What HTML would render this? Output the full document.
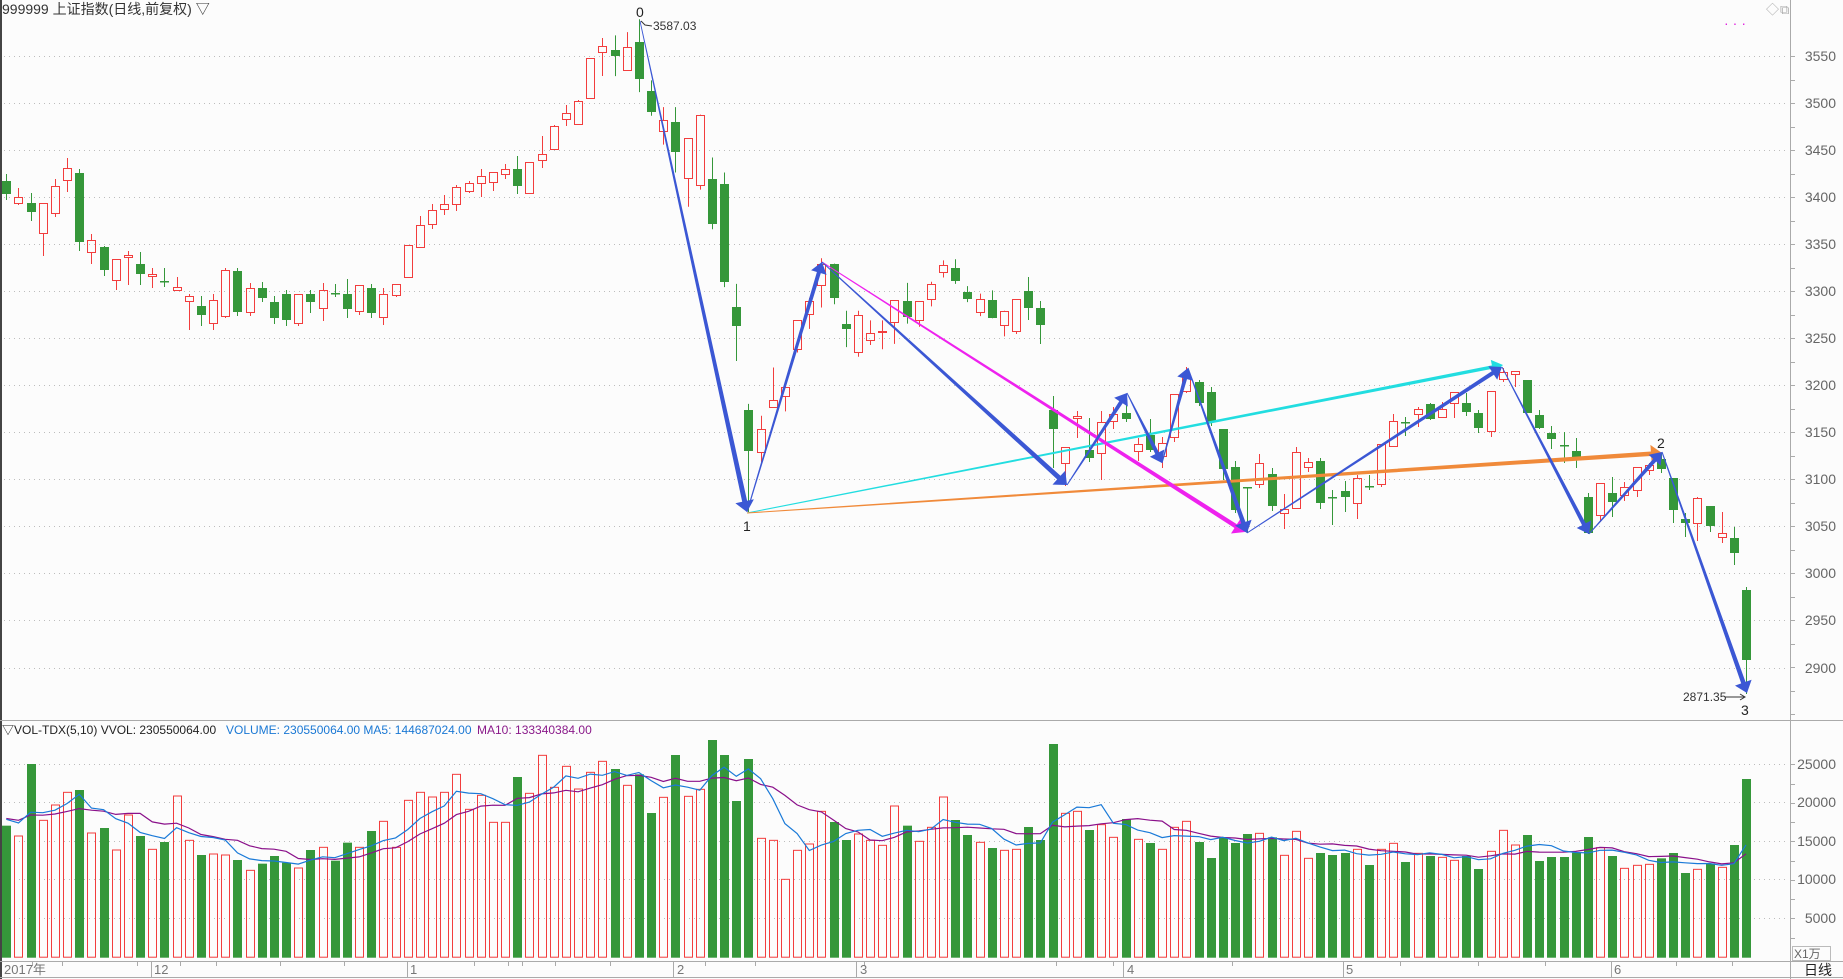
<!DOCTYPE html>
<html><head><meta charset="utf-8">
<style>
html,body{margin:0;padding:0;background:#fcfcfc;}
svg{display:block;}
text{font-family:"Liberation Sans","Noto Sans CJK SC",sans-serif;}
</style></head>
<body>
<svg id="s" xmlns="http://www.w3.org/2000/svg" width="1843" height="979" viewBox="0 0 1843 979">
<rect x="0" y="0" width="1843" height="979" fill="#fcfcfc"/>
<g id="grid" stroke="#bdbdbd" stroke-width="1" stroke-dasharray="1,4"></g>
<line x1="1" y1="0" x2="1" y2="979" stroke="#444" stroke-width="2"/>
<line x1="1790.5" y1="0" x2="1790.5" y2="979" stroke="#aaa" stroke-width="1"/>
<line x1="0" y1="720.5" x2="1843" y2="720.5" stroke="#aaa" stroke-width="1"/>
<line x1="0" y1="961.5" x2="1843" y2="961.5" stroke="#aaa" stroke-width="1"/>
<line x1="0" y1="977.5" x2="1843" y2="977.5" stroke="#aaa" stroke-width="1"/>
<g id="ticks" stroke="#aaa" stroke-width="1"></g>
<g id="candles"></g>
<g id="vols"></g>
<g id="lines"></g>
<text x="2" y="14" font-size="14" fill="#333">999999 上证指数(日线,前复权) ▽</text>
<text x="1766" y="14" font-size="13" fill="#aaa">◇</text>
<text x="1780" y="14" font-size="13" fill="#aaa">⧉</text>
<text x="1724" y="28" font-size="14" fill="#e020e0" letter-spacing="4">···</text>
<g font-size="14" fill="#666" text-anchor="end">
<text x="1836" y="61">3550</text>
<text x="1836" y="108">3500</text>
<text x="1836" y="155">3450</text>
<text x="1836" y="202">3400</text>
<text x="1836" y="249">3350</text>
<text x="1836" y="296">3300</text>
<text x="1836" y="343">3250</text>
<text x="1836" y="390">3200</text>
<text x="1836" y="437">3150</text>
<text x="1836" y="484">3100</text>
<text x="1836" y="531">3050</text>
<text x="1836" y="578">3000</text>
<text x="1836" y="625">2950</text>
<text x="1836" y="673">2900</text>
</g>
<g font-size="14" fill="#666" text-anchor="end">
<text x="1836" y="769">25000</text>
<text x="1836" y="807">20000</text>
<text x="1836" y="846">15000</text>
<text x="1836" y="884">10000</text>
<text x="1836" y="923">5000</text>
</g>
<rect x="1792.5" y="946.5" width="38" height="14" fill="none" stroke="#bbb"/>
<text x="1794" y="958" font-size="12" fill="#666">X1万</text>
<text x="2" y="734" font-size="12" fill="#222">▽VOL-TDX(5,10) VVOL: 230550064.00</text>
<text x="226" y="734" font-size="12" fill="#1a78d4">VOLUME: 230550064.00 MA5: 144687024.00</text>
<text x="477" y="734" font-size="12" fill="#8a1a8a">MA10: 133340384.00</text>
<g font-size="13" fill="#777">
<text x="4" y="974">2017年</text>
<text x="154" y="974">12</text>
<text x="410" y="974">1</text>
<text x="677" y="974">2</text>
<text x="860" y="974">3</text>
<text x="1127" y="974">4</text>
<text x="1346" y="974">5</text>
<text x="1614" y="974">6</text>
</g>
<text x="1804" y="975" font-size="14" fill="#222">日线</text>
<text x="636" y="17" font-size="14" fill="#222">0</text>
<text x="653" y="30" font-size="12" fill="#333">3587.03</text>
<polyline points="641,21 645,25 652,26" fill="none" stroke="#333" stroke-width="1"/>
<text x="743" y="531" font-size="14" fill="#222">1</text>
<text x="1657" y="448" font-size="14" fill="#222">2</text>
<text x="1741" y="715" font-size="14" fill="#222">3</text>
<text x="1683" y="701" font-size="12" fill="#333">2871.35</text>
<line x1="1725" y1="697" x2="1744" y2="697" stroke="#333" stroke-width="1"/>
<polyline points="1740,694 1745,697 1740,700" fill="none" stroke="#333" stroke-width="1"/>
</svg>
<script>
(function(){
var NS="http://www.w3.org/2000/svg";
function el(p,t,a){var e=document.createElementNS(NS,t);for(var k in a)e.setAttribute(k,a[k]);p.appendChild(e);return e;}
var grid=document.getElementById('grid');
var ys=[56,103,150,197,244,291,338,385,432,479,526,573,620,667.5,764.3,802.3,841,879.3,918.3];
ys.forEach(function(y){el(grid,'line',{x1:4,y1:Math.round(y)+0.5,x2:1789,y2:Math.round(y)+0.5});});
var tk=document.getElementById('ticks');
for(var y=56;y<715;y+=23.5){el(tk,'line',{x1:1790,y1:Math.round(y)+0.5,x2:1795,y2:Math.round(y)+0.5});}
for(var y=764.3;y<950;y+=19.25){el(tk,'line',{x1:1790,y1:Math.round(y)+0.5,x2:1795,y2:Math.round(y)+0.5});}
[151,407,673,856,1123,1343,1611].forEach(function(x){el(tk,'line',{x1:x+0.5,y1:962,x2:x+0.5,y2:977});});
[32,62,137,180,216,280,344,474,508,522,555,610,705,755,864,1056,1113,1232,1400,1478,1545,1676,1732].forEach(function(x){el(tk,'line',{x1:x+0.5,y1:962,x2:x+0.5,y2:966});});

var D=[[181,194,174,200],[203,197,188,205],[203,212,193,221],[233,203,203,256],[213,186,179,217],[180,168,158,192],[173,242,169,251],[252,240,234,264],[247,270,246,276],[280,259,259,290],
[257,255,251,285],[264,274,252,285],[276,274,268,288],[281,282,268,287],[290,287,277,290],[301,296,294,330],[306,315,296,326],[323,300,294,330],[316,270,268,318],[271,312,268,316],
[312,288,283,316],[288,298,282,302],[302,318,296,324],[294,320,290,326],[323,294,294,326],[294,302,290,313],[308,290,283,321],[293,294,284,297],[294,309,279,318],[311,285,285,315],
[288,313,284,318],[317,294,288,325],[295,284,284,297],[277,245,245,277],[247,225,216,248],[224,210,204,229],[209,204,195,215],[204,187,185,211],[191,183,181,193],[183,176,169,197],
[182,172,172,191],[174,169,164,179],[169,186,156,194],[193,162,162,193],[160,154,136,168],[149,126,125,149],[119,113,105,126],[124,101,100,124],[98,58,58,98],[52,46,38,76]];
var Z=[[47,52,33,71],[65,44,30,65],[39,74,18,86],[85,105,75,108],[122,112,100,135],[114,142,100,161],[166,129,129,193],[173,107,107,177],[167,209,147,214],[172,263,161,268],
[287,304,265,337],[383,421,377,478],[422,400,388,433],[380,373,343,380],[370,361,361,384],[326,299,299,329],[293,281,278,307],[266,246,241,287],[246,278,246,284],[302,307,290,324],
[329,294,290,333],[317,311,299,322],[310,309,299,326],[301,280,280,321],[281,296,264,302],[299,281,281,305],[279,265,263,286],[254,247,243,259],[250,262,242,265],[273,279,267,282],
[291,279,274,295],[280,297,271,297],[303,290,290,314]];
Z.forEach(function(c){D.push(c.map(function(v){return v*1.0714;}));});
var R=[[331,299,299,334],[291,308,277,320],[308,325,301,344],[410,429,396,468],[463,447,447,486],[418,416,411,438],[450,458,418,462],[453,422,411,480],[421,414,407,429],[413,419,402,422],
[451,444,438,461],[435,450,419,452],[456,443,437,468],[437,394,394,442],[391,377,367,393],[382,403,380,406],[392,422,387,426],[429,469,429,480],[467,510,461,513],[487,488,487,533],
[484,463,454,488],[474,506,468,511],[513,509,494,529],[508,452,447,508],[467,462,458,472],[461,503,458,509],[497,498,490,525],[491,497,481,512],[503,478,475,519],[486,487,475,490],
[484,444,444,487],[446,421,414,446],[422,423,417,436],[414,409,407,427],[404,419,403,420],[417,409,402,418],[403,392,392,418],[403,412,393,416],[413,428,410,433],[431,391,391,437],
[379,372,368,382],[374,371,371,387],[380,413,380,413],[415,428,410,429],[433,439,426,449],[445,446,432,463],[451,458,438,468],[497,533,493,534],[515,483,483,522],[493,502,477,517],
[495,487,482,501],[490,467,467,497],[470,465,463,475],[459,469,453,473],[478,510,478,523],[519,523,513,537],[523,498,497,541],[506,526,506,532],[537,533,512,543],[538,553,527,565],
[590,660,587,694]];
R.forEach(function(c){D.push(c);});
var V=[302,333,117,286,240,202,195,324,309,375,270,333,373,351,213,346,390,387,390,405,436,416,393,413,429,375,367,407,353,367,318,289,367,226,202,216,202,148,253,211,292,292,156,205,91,187,124,192,142,109,132,181,148,264,217,90,214,193,45,90,228,102,340,346,463,376,357,259,291,345,327,346,361,243,302,349,307,216,285,330,352,369,376,373,306,345,57,265,259,315,299,337,282,343,354,373,307,289,351,399,339,354,327,325,337,391,319,400,384,390,384,373,420,373,355,411,385,393,397,406,393,432,379,316,360,330,408,396,396,383,336,368,393,430,421,418,400,384,444,433,416,427,360,162];
var RED="#f23d3d",GRN="#35973a";
var cg=document.getElementById('candles'),vg=document.getElementById('vols');
var BASE=957.7;
function X(i){return 6.3+12.166*i;}
var H=[];
D.forEach(function(c,i){
 var x=Math.round(X(i)),o=c[0],cl=c[1],h=c[2],l=c[3];
 if(cl<o){
  var t=Math.round(cl),b=Math.round(o);
  if(h<t) el(cg,'line',{x1:x+0.5,y1:h,x2:x+0.5,y2:t,stroke:RED,'stroke-width':1});
  if(l>b) el(cg,'line',{x1:x+0.5,y1:b,x2:x+0.5,y2:l,stroke:RED,'stroke-width':1});
  el(cg,'rect',{x:x-3.5,y:t+0.5,width:8,height:Math.max(1,b-t),fill:'none',stroke:RED,'stroke-width':1});
 } else {
  el(cg,'line',{x1:x+0.5,y1:h,x2:x+0.5,y2:l,stroke:GRN,'stroke-width':1});
  var t2=Math.round(o),b2=Math.round(cl);
  el(cg,'rect',{x:x-4,y:t2,width:9,height:Math.max(1.5,b2-t2),fill:GRN});
 }
 var top=725+V[i]/3; H.push(BASE-top);
 if(cl<o) el(vg,'rect',{x:x-3.5,y:top,width:8,height:BASE-top-0.5,fill:'none',stroke:RED,'stroke-width':1});
 else el(vg,'rect',{x:x-4,y:top,width:9,height:BASE-top,fill:GRN});
});
function ma(n){var pts=[];var pad=140;for(var i=0;i<H.length;i++){var s=0;for(var k=0;k<n;k++){var j=i-k;s+=(j>=0?H[j]:pad);}pts.push(X(i).toFixed(1)+","+(BASE-s/n).toFixed(1));}return pts.join(" ");}
el(vg,'polyline',{points:ma(10),fill:'none',stroke:'#8a108a','stroke-width':1.2});
el(vg,'polyline',{points:ma(5),fill:'none',stroke:'#1a7ad8','stroke-width':1.2});

var lg=document.getElementById('lines');
function arrow(x1,y1,x2,y2,w1,w2,col){
 var dx=x2-x1,dy=y2-y1,L=Math.sqrt(dx*dx+dy*dy),ux=dx/L,uy=dy/L,nx=-uy,ny=ux;
 var hl=11,hw=w2*1.4+2.5;
 var ex=x2-ux*hl,ey=y2-uy*hl;
 var p=[[x1+nx*w1/2,y1+ny*w1/2],[ex+nx*w2/2,ey+ny*w2/2],[ex+nx*hw,ey+ny*hw],[x2,y2],[ex-nx*hw,ey-ny*hw],[ex-nx*w2/2,ey-ny*w2/2],[x1-nx*w1/2,y1-ny*w1/2]];
 el(lg,'polygon',{points:p.map(function(a){return a[0].toFixed(1)+","+a[1].toFixed(1);}).join(" "),fill:col});
}
var B="#3b57d4";
arrow(747,513,1503,365,1,3.5,"#22dde0");
arrow(747,513,1662,453,1,4.5,"#f08a3a");
arrow(822,262,1245,532,1,4.5,"#ee22ee");
arrow(640,21,747,512,0.8,5,B);
arrow(747,512,822,262,1,4,B);
arrow(822,262,1067,485,1,5,B);
arrow(1067,485,1127,393,1,4,B);
arrow(1127,393,1162,463,1,4,B);
arrow(1162,463,1188,368,1,4,B);
arrow(1188,368,1247,533,1,4.5,B);
arrow(1247,533,1502,367,1,4,B);
arrow(1502,367,1589,534,1,4,B);
arrow(1589,534,1662,452,1,4,B);
arrow(1662,452,1747,693,1,4.5,B);
})();
</script>
</body></html>
